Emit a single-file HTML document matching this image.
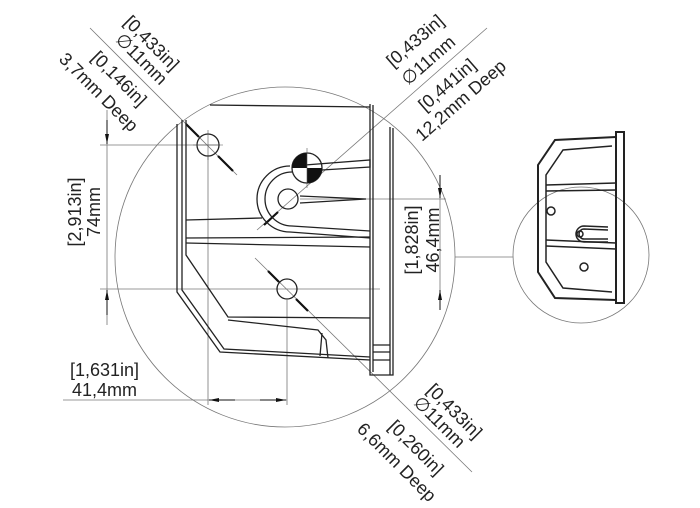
<!DOCTYPE html>
<html><head><meta charset="utf-8"><style>
html,body{margin:0;padding:0;background:#fff;}
svg{display:block;}
text{font-family:"Liberation Sans",sans-serif;font-size:18px;fill:#222;}
</style></head><body>
<svg width="700" height="508" viewBox="0 0 700 508" xmlns="http://www.w3.org/2000/svg">
<defs>
<marker id="ar" viewBox="0 0 10 4" refX="10" refY="2" markerWidth="14" markerHeight="4" markerUnits="userSpaceOnUse" orient="auto"><path d="M0,0 L10,2 L0,4z" fill="#111"/></marker>
</defs>
<g fill="none" stroke="#777" stroke-width="0.8">
<circle cx="285" cy="257" r="170"/>
<circle cx="581" cy="255" r="68"/>
<line x1="455" y1="257" x2="513" y2="257"/>
<line x1="100" y1="145" x2="220" y2="145"/>
<line x1="100" y1="289" x2="380" y2="289"/>
<line x1="300" y1="199" x2="446" y2="199"/>
<line x1="208" y1="155" x2="208" y2="405"/>
<line x1="287" y1="300" x2="287" y2="405"/>
<line x1="63" y1="400" x2="287" y2="400"/>
<line x1="107" y1="110" x2="107" y2="325"/>
<line x1="440" y1="175" x2="440" y2="300"/>
<line x1="90" y1="28" x2="237" y2="175"/>
<line x1="487" y1="28" x2="257" y2="230"/>
<line x1="255" y1="258" x2="472" y2="472"/>
</g>
<g stroke="#111" stroke-width="2.2">
<line x1="186" y1="124" x2="199" y2="137"/>
<line x1="218" y1="156" x2="233" y2="171"/>
<line x1="268" y1="271" x2="279" y2="282"/>
<line x1="296" y1="299" x2="308" y2="311"/>
<line x1="264" y1="225" x2="278" y2="212"/>
</g>
<g stroke="#111" stroke-width="1" fill="none">
<line x1="107" y1="120" x2="107" y2="144" marker-end="url(#ar)"/>
<line x1="107" y1="315" x2="107" y2="290" marker-end="url(#ar)"/>
<line x1="440" y1="175" x2="440" y2="198" marker-end="url(#ar)"/>
<line x1="440" y1="310" x2="440" y2="290" marker-end="url(#ar)"/>
<line x1="235" y1="400" x2="209" y2="400" marker-end="url(#ar)"/>
<line x1="260" y1="400" x2="286" y2="400" marker-end="url(#ar)"/>
</g>
<g fill="none" stroke="#222" stroke-width="1.3">
<path d="M210,105 L370,107"/>
<path d="M177,124 L177,292 L220,352 L370,360"/>
<path d="M182,120 L182,290 L224,349 L370,357"/>
<path d="M186,120 L186,255 L228,317 L370,318"/>
<path d="M228,320 L318,330 L326,340 L328,358"/>
<path d="M322,333 L320,356"/>
<path d="M370,104 L370,375 L393,375 L393,128"/>
<path d="M373,105 L373,372 M390,127 L390,375"/>
<path d="M373,360 L390,360 M373,352 L390,352 M373,345 L390,345"/>
<path d="M186,220 L262,218"/>
<path d="M186,238 L370,237 M186,243 L370,247"/>
<path d="M290,166 A33,33 0 0 0 290,232 L370,238"/>
<path d="M292,172 A27,27 0 0 0 292,226 L370,231"/>
<path d="M292,166 L370,160 L370,167 L322,170"/>
<path d="M300,196 L366,199 L300,203"/>
<circle cx="208" cy="145" r="11"/>
<circle cx="288" cy="199" r="10"/>
<circle cx="287" cy="289" r="10"/>
<circle cx="307" cy="168" r="15"/>
</g>
<path d="M307,168 L307,153 A15,15 0 0 0 292,168 Z M307,168 L307,183 A15,15 0 0 0 322,168 Z" fill="#111"/>
<g stroke="#555" stroke-width="0.6">
<line x1="307" y1="148" x2="307" y2="188"/>
<line x1="208" y1="130" x2="208" y2="160"/>
<line x1="193" y1="145" x2="223" y2="145"/>
</g>
<g fill="none" stroke="#222" stroke-width="1.5">
<rect x="616" y="132" width="8" height="171" stroke-width="2"/>
<path d="M616,137 L555,140 L538,165 L538,272 L555,298 L616,300" stroke-width="2"/>
<path d="M612,146 L563,150 L546,175 L546,262 L563,288 L612,292"/>
<path d="M546,185 L616,183 M546,191 L616,190"/>
<path d="M546,240 L616,243 M546,246 L616,249"/>
<path d="M608,227 L584,226 A8,8 0 0 0 584,242 L608,242"/>
<path d="M608,230 L584,229 A5,5 0 0 0 584,239 L608,239"/>
<circle cx="551" cy="211" r="4"/>
<circle cx="584" cy="267" r="4"/>
<circle cx="580" cy="234" r="3"/>
</g>
<text transform="translate(81,212) rotate(-90)" text-anchor="middle">[2,913in]</text>
<text transform="translate(100,212) rotate(-90)" text-anchor="middle">74mm</text>
<text transform="translate(418,240) rotate(-90)" text-anchor="middle">[1,828in]</text>
<text transform="translate(439,240) rotate(-90)" text-anchor="middle">46,4mm</text>
<text x="70" y="376">[1,631in]</text>
<text x="72" y="396">41,4mm</text>
<text transform="translate(123,23) rotate(45)">[0,433in]</text>
<text transform="translate(114.5,40.5) rotate(45)">∅11mm</text>
<text transform="translate(90.5,58.5) rotate(45)">[0,146in]</text>
<text transform="translate(58,60) rotate(45)">3,7mm Deep</text>
<text transform="translate(426,391) rotate(45)">[0,433in]</text>
<text transform="translate(412.5,403.5) rotate(45)">∅11mm</text>
<text transform="translate(387.5,427.5) rotate(45)">[0,260in]</text>
<text transform="translate(356,430) rotate(45)">6,6mm Deep</text>
<text transform="translate(393,68) rotate(-41)">[0,433in]</text>
<text transform="translate(408,86) rotate(-41)">∅11mm</text>
<text transform="translate(425,112) rotate(-41)">[0,441in]</text>
<text transform="translate(422,142) rotate(-41)">12,2mm Deep</text>
</svg>
</body></html>
